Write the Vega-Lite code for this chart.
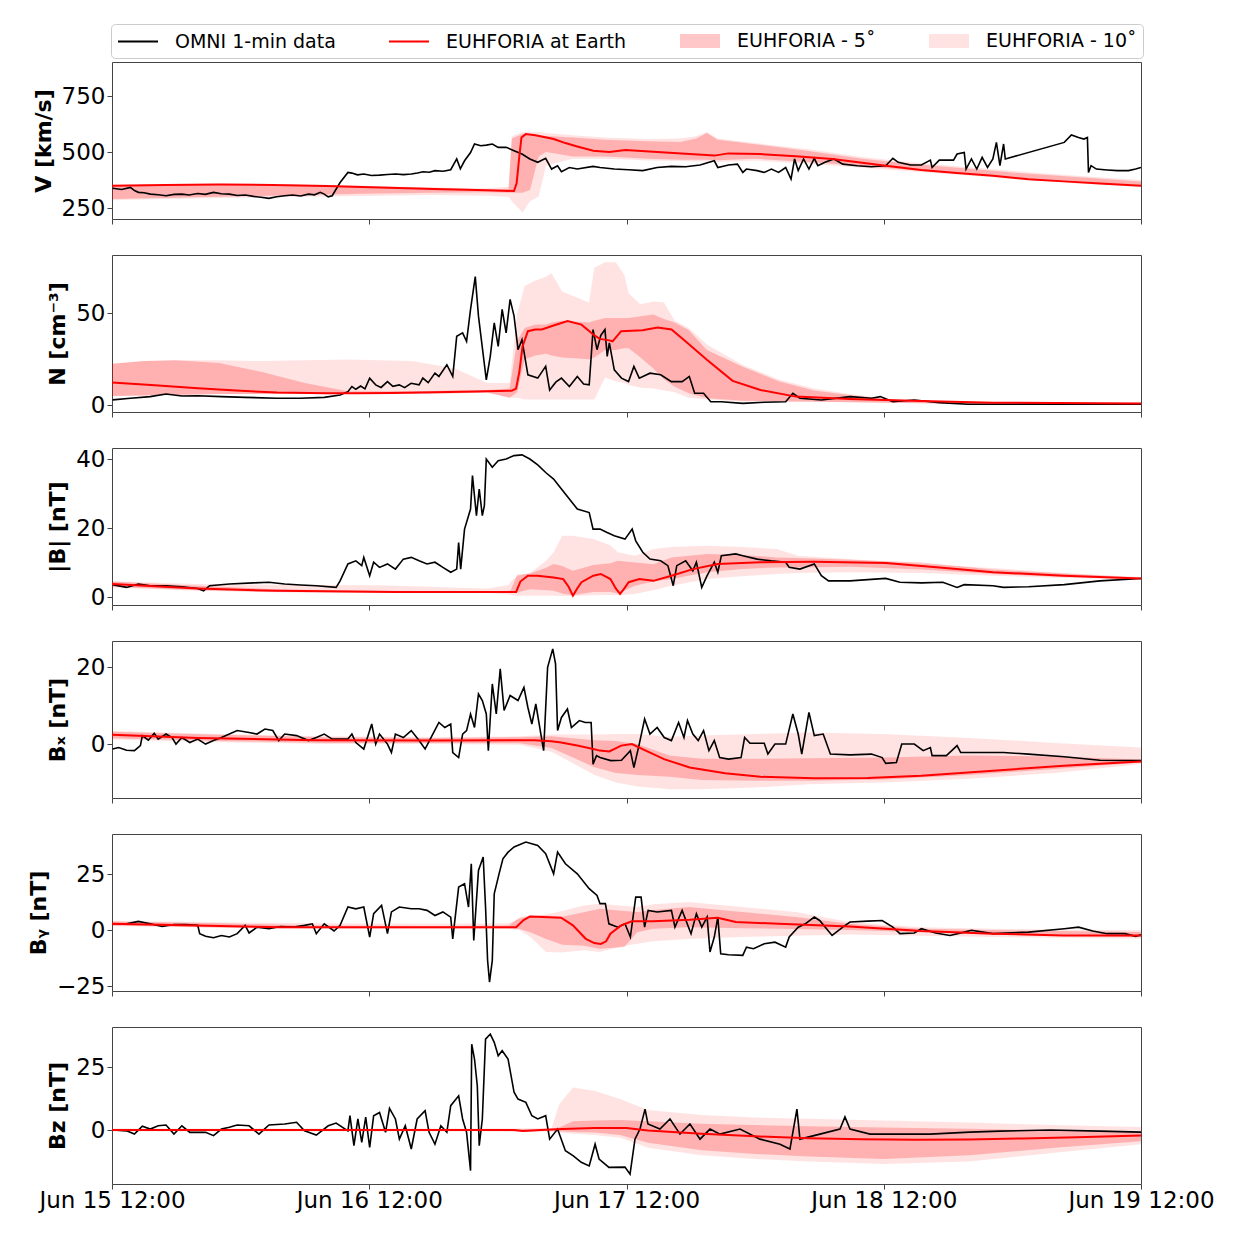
{
  "$schema": "https://vega.github.io/schema/vega-lite/v6.json",
  "padding": {"left": 26, "top": 23, "right": 5, "bottom": 5},
  "background": "white",
  "config": {
    "font": "DejaVu Sans",
    "view": {"stroke": "#444444", "strokeWidth": 1},
    "axis": {
      "labelFont": "DejaVu Sans", "labelFontSize": 23, "labelColor": "#000000",
      "titleFont": "DejaVu Sans", "titleFontSize": 22, "titleFontWeight": "bold", "titleColor": "#000000",
      "tickColor": "#444444", "tickSize": 5, "tickWidth": 1, "domain": false, "grid": false,
      "labelPadding": 2, "titlePadding": 6
    }
  },
  "datasets": {
    "v_omni": [
      {"h":0.06,"v":338},{"h":0.9,"v":333},{"h":1.72,"v":342},{"h":2.1,"v":328},{"h":2.46,"v":320},{"h":3.0,"v":318},{"h":3.57,"v":312},{"h":4.3,"v":309},{"h":5.04,"v":305},{"h":5.8,"v":311},{"h":6.52,"v":312},{"h":7.2,"v":308},{"h":8.0,"v":315},{"h":8.7,"v":311},{"h":9.47,"v":320},{"h":10.2,"v":314},{"h":10.95,"v":312},{"h":11.7,"v":306},{"h":12.42,"v":308},{"h":13.2,"v":302},{"h":13.9,"v":298},{"h":14.64,"v":293},{"h":15.37,"v":300},{"h":16.1,"v":305},{"h":16.85,"v":308},{"h":17.6,"v":304},{"h":18.33,"v":312},{"h":18.9,"v":309},{"h":19.43,"v":320},{"h":19.8,"v":312},{"h":20.17,"v":300},{"h":20.54,"v":305},{"h":21.28,"v":364},{"h":22.01,"v":409},{"h":22.38,"v":406},{"h":22.9,"v":398},{"h":23.49,"v":402},{"h":24.2,"v":395},{"h":24.96,"v":397},{"h":25.7,"v":400},{"h":26.44,"v":402},{"h":27.2,"v":399},{"h":27.92,"v":402},{"h":28.5,"v":406},{"h":29.02,"v":412},{"h":29.6,"v":410},{"h":30.13,"v":417},{"h":30.9,"v":414},{"h":31.6,"v":421},{"h":32.16,"v":469},{"h":32.5,"v":425},{"h":32.89,"v":461},{"h":33.45,"v":498},{"h":33.82,"v":536},{"h":34.4,"v":528},{"h":34.92,"v":531},{"h":35.48,"v":536},{"h":36.03,"v":521},{"h":36.77,"v":521},{"h":37.51,"v":506},{"h":38.25,"v":491},{"h":38.98,"v":469},{"h":39.72,"v":454},{"h":40.46,"v":472},{"h":41.01,"v":424},{"h":41.57,"v":439},{"h":41.93,"v":412},{"h":42.67,"v":431},{"h":43.41,"v":424},{"h":44.88,"v":436},
      {"h":45.53,"v":431},{"h":46.86,"v":424},{"h":48.19,"v":421},{"h":49.52,"v":417},{"h":50.86,"v":431},{"h":52.19,"v":436},{"h":53.52,"v":434},{"h":54.86,"v":442},{"h":56.19,"v":461},{"h":56.52,"v":431},{"h":57.52,"v":442},{"h":58.35,"v":446},{"h":58.85,"v":409},{"h":59.19,"v":424},{"h":60.19,"v":417},{"h":60.85,"v":409},{"h":61.52,"v":424},{"h":62.19,"v":409},{"h":62.85,"v":431},{"h":63.35,"v":379},{"h":63.68,"v":469},{"h":64.02,"v":417},{"h":64.52,"v":469},{"h":65.02,"v":424},{"h":65.52,"v":472},{"h":65.85,"v":439},{"h":66.52,"v":454},{"h":67.35,"v":469},{"h":68.18,"v":446},{"h":69.52,"v":439},{"h":70.85,"v":434},{"h":72.18,"v":439},{"h":72.85,"v":472},{"h":73.35,"v":454},{"h":74.51,"v":442},{"h":75.51,"v":442},{"h":76.35,"v":464},{"h":76.51,"v":431},{"h":77.18,"v":464},{"h":78.51,"v":464},{"h":78.84,"v":491},{"h":79.51,"v":498},{"h":79.68,"v":424},{"h":80.18,"v":469},{"h":80.68,"v":424},{"h":81.18,"v":476},{"h":81.68,"v":431},{"h":82.18,"v":469},{"h":82.51,"v":543},{"h":82.84,"v":439},{"h":83.18,"v":536},{"h":83.34,"v":469},{"h":88.84,"v":543},{"h":89.51,"v":576},{"h":90.17,"v":565},{"h":90.67,"v":558},{"h":91.0,"v":565},{"h":91.1,"v":409},{"h":91.34,"v":439},{"h":91.84,"v":424},{"h":92.84,"v":420},{"h":93.84,"v":417},{"h":94.84,"v":417},{"h":95.5,"v":424},{"h":96.0,"v":431}
    ],
    "v_model": [
      {"h":0,"v":350},{"h":5,"v":353},{"h":10,"v":355},{"h":15,"v":353},{"h":20,"v":348},{"h":25,"v":342},{"h":30,"v":335},{"h":35,"v":329},{"h":37.5,"v":326},{"h":37.75,"v":360},{"h":38.0,"v":480},{"h":38.2,"v":565},{"h":38.6,"v":580},{"h":39.5,"v":575},{"h":41.2,"v":558},{"h":42.3,"v":540},{"h":43.4,"v":525},{"h":44.9,"v":506},{"h":46.4,"v":500},{"h":47.9,"v":509},{"h":50.5,"v":501},{"h":53.9,"v":491},{"h":56.2,"v":484},{"h":57.5,"v":494},{"h":60.5,"v":491},{"h":63.8,"v":481},{"h":67.2,"v":469},{"h":72.2,"v":439},{"h":75.5,"v":420},{"h":78.8,"v":406},{"h":82.2,"v":394},{"h":85.5,"v":379},{"h":88.8,"v":369},{"h":92.2,"v":360},{"h":96,"v":350}
    ],
    "v_band": [
      {"h":0,"lo5":290,"hi5":348,"lo10":285,"hi10":353},{"h":5,"lo5":295,"hi5":352,"lo10":290,"hi10":357},{"h":10,"lo5":300,"hi5":354,"lo10":295,"hi10":359},{"h":15,"lo5":305,"hi5":353,"lo10":298,"hi10":357},{"h":20,"lo5":310,"hi5":350,"lo10":302,"hi10":353},{"h":25,"lo5":315,"hi5":345,"lo10":305,"hi10":348},{"h":30,"lo5":318,"hi5":340,"lo10":308,"hi10":342},{"h":35,"lo5":320,"hi5":333,"lo10":305,"hi10":338},{"h":37.0,"lo5":318,"hi5":336,"lo10":300,"hi10":345},{"h":37.3,"lo5":318,"hi5":560,"lo10":280,"hi10":570},{"h":38.3,"lo5":318,"hi5":580,"lo10":230,"hi10":590},{"h":39.0,"lo5":330,"hi5":578,"lo10":280,"hi10":590},{"h":39.8,"lo5":480,"hi5":575,"lo10":300,"hi10":590},{"h":40.5,"lo5":500,"hi5":572,"lo10":440,"hi10":585},{"h":43,"lo5":480,"hi5":565,"lo10":470,"hi10":575},{"h":46,"lo5":480,"hi5":555,"lo10":470,"hi10":565},{"h":50,"lo5":470,"hi5":548,"lo10":462,"hi10":558},{"h":53,"lo5":465,"hi5":545,"lo10":460,"hi10":560},{"h":54.5,"lo5":465,"hi5":560,"lo10":458,"hi10":570},{"h":55.5,"lo5":465,"hi5":585,"lo10":458,"hi10":590},{"h":56.5,"lo5":463,"hi5":555,"lo10":456,"hi10":560},{"h":60,"lo5":470,"hi5":535,"lo10":462,"hi10":540},{"h":65,"lo5":455,"hi5":505,"lo10":448,"hi10":512},{"h":70,"lo5":438,"hi5":470,"lo10":430,"hi10":478},{"h":75,"lo5":418,"hi5":445,"lo10":412,"hi10":452},{"h":80,"lo5":400,"hi5":425,"lo10":395,"hi10":432},{"h":85,"lo5":382,"hi5":405,"lo10":376,"hi10":412},{"h":90,"lo5":364,"hi5":388,"lo10":360,"hi10":394},{"h":96,"lo5":348,"hi5":368,"lo10":344,"hi10":375}
    ],
    "n_omni": [
      {"h":0.06,"v":2.8},{"h":1.72,"v":3.7},{"h":3.57,"v":4.6},{"h":5.04,"v":6.0},{"h":6.52,"v":4.9},{"h":8.0,"v":5.1},{"h":10.21,"v":4.6},{"h":12.42,"v":4.2},{"h":15.37,"v":3.7},{"h":17.59,"v":3.7},{"h":19.8,"v":4.2},{"h":21.28,"v":5.5},{"h":22.01,"v":7.3},{"h":22.38,"v":10.1},{"h":22.75,"v":8.6},{"h":23.2,"v":10.4},{"h":23.6,"v":8.8},{"h":24.04,"v":14.7},{"h":24.6,"v":11.0},{"h":25.1,"v":9.6},{"h":25.7,"v":12.8},{"h":26.2,"v":10.2},{"h":26.8,"v":11.0},{"h":27.3,"v":9.5},{"h":27.9,"v":11.9},{"h":28.65,"v":11.0},{"h":29.0,"v":14.7},{"h":29.5,"v":12.2},{"h":30.13,"v":17.4},{"h":30.5,"v":15.6},{"h":31.24,"v":22.0},{"h":31.79,"v":15.6},{"h":32.16,"v":37.5},{"h":32.71,"v":39.4},{"h":33.08,"v":34.8},{"h":33.45,"v":52.2},{"h":33.89,"v":70.1},{"h":34.19,"v":48.5},{"h":34.92,"v":13.7},{"h":35.29,"v":26.6},{"h":35.66,"v":44.9},{"h":36.03,"v":32.0},{"h":36.4,"v":52.2},{"h":36.77,"v":39.4},{"h":37.14,"v":57.7},{"h":37.51,"v":48.5},{"h":37.88,"v":30.2},{"h":38.25,"v":35.7},{"h":38.8,"v":16.5},{"h":39.72,"v":14.7},{"h":40.46,"v":21.1},{"h":40.83,"v":8.2},{"h":41.4,"v":12.5},{"h":41.93,"v":14.7},{"h":42.67,"v":10.1},{"h":43.41,"v":15.6},{"h":44.0,"v":11.5},{"h":44.52,"v":11.0},{"h":44.88,"v":41.2},{"h":45.25,"v":30.2},{"h":45.6,"v":38},{"h":45.99,"v":41.2},{"h":46.2,"v":26.6},{"h":46.4,"v":33.9},{"h":46.86,"v":19.2},{"h":47.53,"v":14.7},{"h":48.19,"v":12.8},{"h":48.69,"v":21.1},{"h":49.19,"v":14.7},{"h":50.19,"v":17.4},{"h":51.19,"v":16.5},{"h":52.19,"v":12.8},{"h":53.19,"v":12.8},{"h":53.86,"v":15.6},{"h":54.36,"v":6.4},{"h":55.19,"v":6.4},{"h":55.86,"v":1.8},{"h":56.85,"v":1.8},{"h":58.85,"v":0.9},{"h":60.85,"v":1.5},{"h":62.85,"v":1.8},{"h":63.52,"v":6.4},{"h":64.18,"v":3.7},{"h":66.18,"v":2.75},{"h":68.85,"v":4.6},{"h":70.85,"v":3.7},{"h":71.68,"v":4.6},{"h":72.85,"v":1.8},{"h":74.84,"v":2.75},{"h":77.18,"v":1.3},{"h":79.84,"v":0.4},{"h":82.18,"v":0.4},{"h":85.5,"v":0.5},{"h":88.84,"v":0.4},{"h":92.17,"v":0.4},{"h":96,"v":0.5}
    ],
    "n_model": [
      {"h":0,"v":12.3},{"h":4,"v":10.8},{"h":8,"v":9.2},{"h":12,"v":7.8},{"h":15.4,"v":6.8},{"h":20,"v":6.5},{"h":22.8,"v":6.4},{"h":26,"v":6.6},{"h":30.1,"v":7.0},{"h":34,"v":7.4},{"h":37.3,"v":7.8},{"h":37.7,"v":9},{"h":38.0,"v":18},{"h":38.3,"v":32},{"h":38.8,"v":40.3},{"h":39.5,"v":41.2},{"h":40.1,"v":41.2},{"h":41.2,"v":43.4},{"h":42.5,"v":45.9},{"h":43.8,"v":43.9},{"h":44.9,"v":38.5},{"h":45.5,"v":36.1},{"h":46.4,"v":35.3},{"h":46.7,"v":34.8},{"h":47.5,"v":40.3},{"h":49.5,"v":40.8},{"h":50.9,"v":42.3},{"h":52.2,"v":41.2},{"h":53.5,"v":34.8},{"h":55.5,"v":24.7},{"h":57.9,"v":13.2},{"h":60.5,"v":8.2},{"h":63.8,"v":4.6},{"h":68.8,"v":3.3},{"h":75.5,"v":2.2},{"h":82.2,"v":1.3},{"h":96,"v":0.9}
    ],
    "n_band": [
      {"h":0,"lo5":5,"hi5":22.5,"lo10":5,"hi10":22.5},{"h":3,"lo5":5.2,"hi5":24,"lo10":5.2,"hi10":24},{"h":6,"lo5":5.5,"hi5":24.5,"lo10":5.5,"hi10":24.5},{"h":10,"lo5":6,"hi5":23,"lo10":6,"hi10":24.5},{"h":14,"lo5":6,"hi5":18,"lo10":6,"hi10":24},{"h":18,"lo5":6,"hi5":12,"lo10":6,"hi10":24.5},{"h":22,"lo5":6,"hi5":7.5,"lo10":6,"hi10":24.8},{"h":28,"lo5":6.2,"hi5":7.5,"lo10":6.2,"hi10":24},{"h":32,"lo5":6.5,"hi5":8,"lo10":6.5,"hi10":20},{"h":35,"lo5":6.8,"hi5":8.2,"lo10":6.8,"hi10":12},{"h":37.1,"lo5":4,"hi5":9,"lo10":4,"hi10":12},{"h":37.8,"lo5":7,"hi5":35,"lo10":4,"hi10":50},{"h":38.5,"lo5":25,"hi5":42,"lo10":3,"hi10":65},{"h":39.5,"lo5":27,"hi5":44,"lo10":3,"hi10":68},{"h":40.5,"lo5":28,"hi5":44,"lo10":3,"hi10":70},{"h":41,"lo5":27,"hi5":45,"lo10":3,"hi10":72},{"h":42,"lo5":26,"hi5":46,"lo10":3,"hi10":62},{"h":44.5,"lo5":25,"hi5":45,"lo10":3,"hi10":56},{"h":45,"lo5":26,"hi5":46,"lo10":3,"hi10":75},{"h":46,"lo5":30,"hi5":47.5,"lo10":15,"hi10":78},{"h":47,"lo5":30,"hi5":47.5,"lo10":13,"hi10":78},{"h":47.8,"lo5":31,"hi5":47.5,"lo10":12,"hi10":71},{"h":48.2,"lo5":31,"hi5":47.5,"lo10":11,"hi10":61},{"h":49.3,"lo5":26,"hi5":48.5,"lo10":9.5,"hi10":55},{"h":50.5,"lo5":20,"hi5":49.4,"lo10":9,"hi10":56.5},{"h":51.5,"lo5":14,"hi5":47,"lo10":8,"hi10":56},{"h":52.5,"lo5":10,"hi5":45,"lo10":7,"hi10":46},{"h":53.8,"lo5":6.4,"hi5":41,"lo10":4,"hi10":42},{"h":55.5,"lo5":3.7,"hi5":30,"lo10":3,"hi10":33},{"h":58.8,"lo5":2.4,"hi5":21,"lo10":2,"hi10":22},{"h":62.2,"lo5":2,"hi5":13,"lo10":2,"hi10":14},{"h":65.5,"lo5":1.8,"hi5":8,"lo10":1.8,"hi10":9},{"h":68.8,"lo5":1.5,"hi5":5.5,"lo10":1.5,"hi10":6},{"h":72.2,"lo5":1.3,"hi5":3.3,"lo10":1.3,"hi10":3.6},{"h":75.5,"lo5":1,"hi5":1.8,"lo10":1,"hi10":2.2},{"h":80,"lo5":0.6,"hi5":1.2,"lo10":0.6,"hi10":1.4},{"h":96,"lo5":0.4,"hi5":1.0,"lo10":0.4,"hi10":1.2}
    ],
    "b_omni": [
      {"h":0.06,"v":3.6},{"h":1.36,"v":2.8},{"h":2.46,"v":3.8},{"h":3.57,"v":3.3},{"h":5.04,"v":3.3},{"h":6.52,"v":3.0},{"h":8.0,"v":2.5},{"h":8.55,"v":1.8},{"h":9.1,"v":3.3},{"h":10.95,"v":3.8},{"h":13.16,"v":4.1},{"h":14.64,"v":4.3},{"h":16.11,"v":3.8},{"h":17.59,"v":3.5},{"h":19.06,"v":3.3},{"h":20.91,"v":2.8},{"h":21.28,"v":4.7},{"h":22.01,"v":9.6},{"h":22.75,"v":10.5},{"h":23.3,"v":9.1},{"h":23.49,"v":11.5},{"h":24.04,"v":6.2},{"h":24.41,"v":10.1},{"h":24.96,"v":8.6},{"h":25.7,"v":9.6},{"h":26.44,"v":8.1},{"h":27.18,"v":11.0},{"h":27.92,"v":11.5},{"h":28.65,"v":10.5},{"h":29.39,"v":9.6},{"h":30.13,"v":10.1},{"h":30.87,"v":8.6},{"h":31.6,"v":7.2},{"h":32.16,"v":8.1},{"h":32.34,"v":15.8},{"h":32.53,"v":8.1},{"h":32.89,"v":19.7},{"h":33.45,"v":25.5},{"h":33.63,"v":35.2},{"h":34.0,"v":23.6},{"h":34.26,"v":31.3},{"h":34.55,"v":23.6},{"h":34.74,"v":26.5},{"h":34.92,"v":40.0},{"h":35.48,"v":37.6},{"h":36.03,"v":39.5},{"h":36.77,"v":40.0},{"h":37.51,"v":41.0},{"h":38.25,"v":41.2},{"h":38.98,"v":40.0},{"h":39.72,"v":38.3},{"h":40.46,"v":36.1},{"h":41.2,"v":34.2},{"h":41.93,"v":31.3},{"h":42.67,"v":28.4},{"h":43.41,"v":25.5},{"h":44.52,"v":24.5},{"h":44.88,"v":19.7},
      {"h":45.53,"v":19.7},{"h":46.19,"v":18.7},{"h":46.86,"v":17.8},{"h":47.86,"v":16.8},{"h":48.53,"v":19.7},{"h":48.86,"v":16.3},{"h":49.52,"v":13.0},{"h":50.19,"v":11.0},{"h":51.19,"v":10.5},{"h":51.86,"v":9.1},{"h":52.36,"v":3.3},{"h":52.69,"v":9.1},{"h":53.52,"v":10.5},{"h":54.19,"v":7.6},{"h":54.52,"v":10.1},{"h":55.02,"v":2.8},{"h":55.52,"v":6.2},{"h":56.19,"v":10.1},{"h":56.52,"v":7.2},{"h":56.85,"v":12.0},{"h":58.19,"v":12.5},{"h":58.85,"v":12.0},{"h":60.19,"v":11.0},{"h":61.52,"v":10.5},{"h":62.85,"v":10.1},{"h":63.18,"v":8.6},{"h":64.18,"v":8.1},{"h":65.52,"v":9.6},{"h":66.18,"v":6.2},{"h":66.85,"v":4.7},{"h":68.85,"v":4.7},{"h":72.18,"v":5.4},{"h":73.51,"v":4.3},{"h":75.51,"v":4.1},{"h":77.51,"v":4.3},{"h":78.84,"v":2.8},{"h":79.51,"v":3.6},{"h":82.18,"v":3.3},{"h":83.18,"v":2.8},{"h":85.51,"v":3.0},{"h":88.84,"v":3.6},{"h":92.17,"v":4.7},{"h":96,"v":5.4}
    ],
    "b_model": [
      {"h":0,"v":3.8},{"h":8,"v":2.5},{"h":15.4,"v":1.8},{"h":26.4,"v":1.5},{"h":37.7,"v":1.5},{"h":38.1,"v":4.5},{"h":38.8,"v":6.2},{"h":39.7,"v":6.2},{"h":41.2,"v":5.7},{"h":42.1,"v":5.2},{"h":42.6,"v":3.0},{"h":43.0,"v":0.4},{"h":43.4,"v":2.5},{"h":43.8,"v":4.3},{"h":44.9,"v":6.2},{"h":45.6,"v":6.7},{"h":46.5,"v":5.2},{"h":47.0,"v":2.5},{"h":47.4,"v":0.9},{"h":47.8,"v":2.5},{"h":48.2,"v":4.3},{"h":49.2,"v":5.2},{"h":50.5,"v":4.7},{"h":52.2,"v":6.2},{"h":54.2,"v":8.1},{"h":56.5,"v":9.6},{"h":60.5,"v":10.1},{"h":65.5,"v":10.2},{"h":72.2,"v":9.9},{"h":77.2,"v":8.6},{"h":82.2,"v":7.2},{"h":88.8,"v":6.2},{"h":96,"v":5.4}
    ],
    "b_band": [
      {"h":0,"lo5":3.0,"hi5":4.5,"lo10":2.8,"hi10":4.6},{"h":8,"lo5":2.0,"hi5":3.3,"lo10":1.8,"hi10":3.8},{"h":15,"lo5":1.5,"hi5":2.3,"lo10":1.4,"hi10":3.6},{"h":25,"lo5":1.3,"hi5":1.8,"lo10":1.2,"hi10":3.4},{"h":35,"lo5":1.3,"hi5":1.7,"lo10":1.2,"hi10":2.5},{"h":37,"lo5":1.3,"hi5":1.8,"lo10":0.8,"hi10":3.5},{"h":37.2,"lo5":1.3,"hi5":2.0,"lo10":0.5,"hi10":4.5},{"h":37.8,"lo5":1.3,"hi5":6.5,"lo10":0.4,"hi10":6.0},{"h":39.0,"lo5":2.3,"hi5":6.8,"lo10":0.4,"hi10":7.0},{"h":40.5,"lo5":2.0,"hi5":8.5,"lo10":0.4,"hi10":10.5},{"h":41.2,"lo5":1.8,"hi5":9.6,"lo10":0.4,"hi10":13},{"h":42.0,"lo5":1.0,"hi5":9.0,"lo10":0.3,"hi10":17.8},{"h":43.0,"lo5":0.5,"hi5":7.6,"lo10":0.3,"hi10":17.8},{"h":44.9,"lo5":1.5,"hi5":9.3,"lo10":0.5,"hi10":16.8},{"h":46.5,"lo5":1.5,"hi5":9.8,"lo10":0.6,"hi10":15.0},{"h":47.2,"lo5":1.0,"hi5":10.5,"lo10":0.5,"hi10":13},{"h":48.8,"lo5":3.3,"hi5":10.0,"lo10":0.9,"hi10":12},{"h":50.5,"lo5":4.5,"hi5":9.5,"lo10":2.0,"hi10":13.9},{"h":52.2,"lo5":5.2,"hi5":11.5,"lo10":3.3,"hi10":14.5},{"h":55.5,"lo5":7.2,"hi5":12.5,"lo10":5.2,"hi10":14.9},{"h":58.8,"lo5":8.1,"hi5":12.2,"lo10":6.0,"hi10":14.5},{"h":62,"lo5":8.6,"hi5":11.5,"lo10":6.7,"hi10":13.9},{"h":64,"lo5":8.6,"hi5":11.3,"lo10":7.0,"hi10":12},{"h":68.8,"lo5":8.8,"hi5":10.8,"lo10":7.2,"hi10":11},{"h":75.5,"lo5":8.0,"hi5":10.0,"lo10":7.0,"hi10":9.6},{"h":82.2,"lo5":6.7,"hi5":8.0,"lo10":6.2,"hi10":8.4},{"h":88.8,"lo5":5.8,"hi5":6.8,"lo10":5.5,"hi10":7.0},{"h":96,"lo5":5.2,"hi5":5.6,"lo10":5.1,"hi10":5.8}
    ],
    "bx_omni": [
      {"h":0.06,"v":-1.3},{"h":0.62,"v":-0.9},{"h":1.36,"v":-1.6},{"h":2.09,"v":-1.7},{"h":2.65,"v":-0.4},{"h":2.83,"v":2.2},{"h":3.39,"v":1.0},{"h":3.94,"v":2.8},{"h":4.31,"v":1.3},{"h":5.04,"v":2.6},{"h":5.6,"v":1.7},{"h":5.97,"v":0},{"h":6.52,"v":1.7},{"h":7.26,"v":0.4},{"h":8.0,"v":1.3},{"h":8.73,"v":0},{"h":9.47,"v":0.9},{"h":10.21,"v":1.7},{"h":10.95,"v":2.6},{"h":11.68,"v":3.5},{"h":12.79,"v":3.0},{"h":13.53,"v":2.6},{"h":14.27,"v":3.9},{"h":15.0,"v":3.5},{"h":15.56,"v":0.9},{"h":16.11,"v":2.6},{"h":17.22,"v":2.2},{"h":18.33,"v":0.9},{"h":19.06,"v":1.7},{"h":19.8,"v":2.6},{"h":20.54,"v":1.3},{"h":22.01,"v":1.3},{"h":22.38,"v":2.6},{"h":22.75,"v":0.4},{"h":23.49,"v":-1.3},{"h":24.23,"v":5.2},{"h":24.6,"v":0},{"h":24.96,"v":2.6},{"h":25.7,"v":0},{"h":26.07,"v":-2.2},{"h":26.44,"v":2.6},{"h":27.18,"v":1.7},{"h":27.92,"v":3.5},{"h":28.65,"v":0.9},{"h":29.21,"v":-1.3},{"h":29.76,"v":1.7},{"h":30.5,"v":5.6},{"h":31.05,"v":4.3},{"h":31.6,"v":5.2},{"h":31.79,"v":-2.2},{"h":32.34,"v":-3.5},{"h":32.71,"v":2.6},{"h":33.08,"v":3.5},{"h":33.45,"v":7.8},{"h":33.82,"v":4.3},{"h":34.19,"v":13.0},{"h":34.55,"v":11.3},{"h":34.92,"v":7.8},{"h":35.11,"v":-1.7},{"h":35.48,"v":15.6},{"h":35.85,"v":7.8},{"h":36.22,"v":19.5},{"h":36.58,"v":8.7},{"h":37.14,"v":12.6},{"h":37.88,"v":11.3},{"h":38.43,"v":14.7},{"h":38.8,"v":9.5},{"h":39.17,"v":5.2},{"h":39.54,"v":10.4},{"h":40.27,"v":-1.7},{"h":40.64,"v":19.9},{"h":41.12,"v":24.7},{"h":41.38,"v":20.8},{"h":41.57,"v":3.5},{"h":41.93,"v":6.9},{"h":42.49,"v":9.1},{"h":42.86,"v":4.3},{"h":43.6,"v":6.1},{"h":44.15,"v":5.6},{"h":44.7,"v":5.6},{"h":44.88,"v":-5.2},{"h":45.2,"v":-3.0},
      {"h":45.53,"v":-3.5},{"h":46.53,"v":-4.3},{"h":47.53,"v":-4.2},{"h":48.36,"v":-1.7},{"h":48.69,"v":-6.1},{"h":49.19,"v":0},{"h":49.69,"v":6.5},{"h":50.19,"v":2.6},{"h":50.86,"v":4.3},{"h":51.52,"v":1.7},{"h":52.19,"v":0.9},{"h":52.86,"v":5.6},{"h":53.36,"v":1.7},{"h":53.69,"v":6.1},{"h":54.19,"v":2.6},{"h":54.69,"v":0.9},{"h":55.19,"v":3.5},{"h":55.69,"v":-1.7},{"h":56.19,"v":0.9},{"h":56.69,"v":-3.5},{"h":57.52,"v":-3.9},{"h":58.69,"v":-3.5},{"h":59.02,"v":1.7},{"h":59.52,"v":0.2},{"h":60.85,"v":0.2},{"h":61.19,"v":-2.6},{"h":61.85,"v":0},{"h":62.85,"v":0},{"h":63.52,"v":7.8},{"h":64.02,"v":2.6},{"h":64.35,"v":-2.6},{"h":65.02,"v":8.2},{"h":65.52,"v":2.2},{"h":66.35,"v":2.6},{"h":67.02,"v":-2.6},{"h":68.85,"v":-2.8},{"h":70.85,"v":-2.6},{"h":71.85,"v":-3.5},{"h":72.18,"v":-5.0},{"h":73.18,"v":-4.8},{"h":73.68,"v":0},{"h":74.85,"v":0},{"h":75.68,"v":-1.7},{"h":76.35,"v":-0.9},{"h":76.51,"v":-3.0},{"h":77.84,"v":-3.0},{"h":78.84,"v":-0.4},{"h":79.18,"v":-2.2},{"h":80.84,"v":-2.2},{"h":83.18,"v":-2.2},{"h":85.51,"v":-2.6},{"h":88.84,"v":-3.3},{"h":92.17,"v":-4.2},{"h":96,"v":-4.3}
    ],
    "bx_model": [
      {"h":0,"v":2.4},{"h":8,"v":1.6},{"h":19,"v":1.0},{"h":30.1,"v":0.9},{"h":39.4,"v":1.0},{"h":41.0,"v":0.7},{"h":41.9,"v":0.4},{"h":43.4,"v":-0.4},{"h":44.9,"v":-1.3},{"h":45.5,"v":-1.7},{"h":46.4,"v":-1.9},{"h":47.5,"v":-0.4},{"h":48.5,"v":0},{"h":49.5,"v":-1.3},{"h":51.5,"v":-3.9},{"h":53.9,"v":-6.1},{"h":57.2,"v":-7.6},{"h":60.5,"v":-8.5},{"h":65.5,"v":-8.9},{"h":70.5,"v":-8.8},{"h":75.5,"v":-8.2},{"h":82.2,"v":-6.9},{"h":88.8,"v":-5.6},{"h":96,"v":-4.5}
    ],
    "bx_band": [
      {"h":0,"lo5":1.5,"hi5":3.2,"lo10":1.2,"hi10":3.4},{"h":10,"lo5":0.8,"hi5":2.4,"lo10":0.5,"hi10":2.6},{"h":20,"lo5":0.3,"hi5":1.8,"lo10":0.0,"hi10":2.0},{"h":30,"lo5":0.3,"hi5":1.6,"lo10":0.0,"hi10":1.8},{"h":38,"lo5":0.2,"hi5":1.8,"lo10":-0.2,"hi10":2.0},{"h":41,"lo5":-1,"hi5":2.0,"lo10":-2,"hi10":2.5},{"h":43,"lo5":-3.5,"hi5":1.5,"lo10":-5,"hi10":2.5},{"h":45,"lo5":-6,"hi5":1,"lo10":-8,"hi10":2.5},{"h":47,"lo5":-7.5,"hi5":0.8,"lo10":-10,"hi10":2.6},{"h":49,"lo5":-8,"hi5":0,"lo10":-11,"hi10":2.6},{"h":52,"lo5":-8.5,"hi5":-3,"lo10":-11.7,"hi10":1.9},{"h":55,"lo5":-9.3,"hi5":-3.8,"lo10":-11.7,"hi10":2.2},{"h":60,"lo5":-9.5,"hi5":-3.8,"lo10":-11.3,"hi10":2.6},{"h":65,"lo5":-9.5,"hi5":-3.7,"lo10":-10.4,"hi10":3.0},{"h":72,"lo5":-9.2,"hi5":-3.5,"lo10":-10,"hi10":2.6},{"h":80,"lo5":-8,"hi5":-3,"lo10":-9,"hi10":1.6},{"h":88,"lo5":-6.5,"hi5":-3.2,"lo10":-7.5,"hi10":0.3},{"h":96,"lo5":-4.8,"hi5":-4.0,"lo10":-5.2,"hi10":-0.9}
    ],
    "by_omni": [
      {"h":0.06,"v":2.8},{"h":1.36,"v":2.8},{"h":2.46,"v":3.9},{"h":3.57,"v":2.8},{"h":4.68,"v":1.6},{"h":5.78,"v":2.5},{"h":6.89,"v":2.5},{"h":8.0,"v":2.1},{"h":8.18,"v":-1.6},{"h":8.73,"v":-2.8},{"h":9.47,"v":-3.4},{"h":10.21,"v":-2.4},{"h":10.95,"v":-3.1},{"h":11.68,"v":-1.6},{"h":12.42,"v":2.1},{"h":12.79,"v":-1.3},{"h":13.53,"v":1.3},{"h":14.64,"v":0.6},{"h":15.74,"v":1.6},{"h":16.85,"v":1.3},{"h":17.96,"v":2.1},{"h":18.69,"v":2.8},{"h":19.06,"v":-1.6},{"h":19.8,"v":2.8},{"h":20.72,"v":-0.4},{"h":21.28,"v":2.1},{"h":22.01,"v":10.3},{"h":22.75,"v":9.5},{"h":23.49,"v":10.3},{"h":24.04,"v":-3.1},{"h":24.41,"v":7.3},{"h":25.15,"v":11.0},{"h":25.7,"v":-1.6},{"h":26.07,"v":8.1},{"h":26.81,"v":10.3},{"h":27.92,"v":9.5},{"h":28.65,"v":9.5},{"h":29.39,"v":8.8},{"h":30.13,"v":6.5},{"h":30.87,"v":8.1},{"h":31.6,"v":5.8},{"h":31.79,"v":-3.9},{"h":32.34,"v":19.2},{"h":32.89,"v":20.7},{"h":33.26,"v":10.3},{"h":33.52,"v":29.6},{"h":33.75,"v":-4.6},{"h":34.19,"v":26.6},{"h":34.63,"v":32.6},{"h":34.85,"v":10.3},{"h":35.04,"v":-13.5},{"h":35.22,"v":-23.2},{"h":35.48,"v":-13.5},{"h":35.66,"v":16.2},{"h":36.11,"v":25.1},{"h":36.47,"v":31.8},{"h":36.95,"v":34.8},{"h":37.51,"v":37.1},{"h":38.61,"v":39.3},{"h":39.72,"v":37.8},{"h":40.46,"v":34.1},{"h":41.2,"v":25.1},{"h":41.57,"v":34.8},{"h":42.3,"v":29.6},{"h":43.41,"v":25.1},{"h":44.52,"v":18.5},{"h":45.25,"v":15.5},
      {"h":45.53,"v":11.8},{"h":46.03,"v":11.8},{"h":46.36,"v":2.8},{"h":47.19,"v":1.3},{"h":47.86,"v":2.8},{"h":48.36,"v":-3.1},{"h":48.86,"v":14.7},{"h":49.36,"v":14.7},{"h":49.69,"v":1.3},{"h":50.02,"v":8.8},{"h":50.86,"v":8.1},{"h":52.19,"v":8.8},{"h":52.52,"v":1.3},{"h":53.19,"v":8.8},{"h":54.02,"v":-1.6},{"h":54.52,"v":7.3},{"h":55.02,"v":1.3},{"h":55.52,"v":5.8},{"h":55.79,"v":-9.8},{"h":56.19,"v":-3.1},{"h":56.52,"v":5.8},{"h":56.79,"v":-10.6},{"h":57.52,"v":-11.0},{"h":58.85,"v":-11.3},{"h":59.19,"v":-7.6},{"h":59.85,"v":-8.3},{"h":60.85,"v":-6.1},{"h":61.85,"v":-5.4},{"h":62.85,"v":-7.6},{"h":63.18,"v":-3.1},{"h":64.02,"v":1.3},{"h":64.68,"v":2.8},{"h":65.52,"v":5.8},{"h":66.02,"v":4.3},{"h":67.18,"v":-2.4},{"h":68.18,"v":1.3},{"h":68.85,"v":3.6},{"h":70.51,"v":4.0},{"h":71.85,"v":4.3},{"h":72.85,"v":1.3},{"h":73.51,"v":-1.6},{"h":74.85,"v":-1.3},{"h":75.51,"v":0.6},{"h":76.84,"v":-1.3},{"h":78.18,"v":-2.4},{"h":79.51,"v":-0.9},{"h":80.18,"v":-0.1},{"h":82.18,"v":-1.6},{"h":85.51,"v":-0.9},{"h":88.84,"v":0.6},{"h":90.17,"v":1.3},{"h":91.5,"v":-0.4},{"h":92.84,"v":-1.6},{"h":94.5,"v":-1.6},{"h":95.5,"v":-2.8},{"h":96,"v":-2.1}
    ],
    "by_model": [
      {"h":0,"v":2.8},{"h":15.7,"v":1.3},{"h":26.4,"v":1.3},{"h":37.7,"v":1.3},{"h":38.4,"v":4.5},{"h":39.0,"v":6.1},{"h":41.9,"v":5.5},{"h":43.0,"v":2.1},{"h":44.2,"v":-3.9},{"h":45.0,"v":-5.8},{"h":45.6,"v":-6.2},{"h":46.1,"v":-5.0},{"h":46.5,"v":-1.6},{"h":47.5,"v":2.1},{"h":48.5,"v":3.9},{"h":50.5,"v":3.9},{"h":53.9,"v":4.6},{"h":56.5,"v":5.5},{"h":58.2,"v":3.6},{"h":62.2,"v":2.8},{"h":68.8,"v":1.6},{"h":75.5,"v":-0.4},{"h":82.2,"v":-1.6},{"h":88.8,"v":-2.4},{"h":96,"v":-2.4}
    ],
    "by_band": [
      {"h":0,"lo5":2.0,"hi5":3.8,"lo10":1.8,"hi10":4.0},{"h":10,"lo5":1.2,"hi5":3.0,"lo10":1.0,"hi10":3.5},{"h":20,"lo5":0.8,"hi5":2.0,"lo10":0.6,"hi10":3.0},{"h":30,"lo5":0.8,"hi5":1.8,"lo10":0.6,"hi10":2.8},{"h":37,"lo5":0.8,"hi5":2.0,"lo10":0.5,"hi10":3.0},{"h":38,"lo5":0.5,"hi5":5.5,"lo10":0,"hi10":5.0},{"h":39,"lo5":-1,"hi5":6.5,"lo10":-3,"hi10":6.0},{"h":40.5,"lo5":-4,"hi5":6.5,"lo10":-9.8,"hi10":7.0},{"h":42,"lo5":-6.5,"hi5":6.0,"lo10":-10,"hi10":8.5},{"h":44,"lo5":-7,"hi5":8.0,"lo10":-9,"hi10":11},{"h":45.5,"lo5":-8.3,"hi5":9.5,"lo10":-9.8,"hi10":11.8},{"h":47.8,"lo5":-7.5,"hi5":8.5,"lo10":-7,"hi10":10.8},{"h":49,"lo5":-1,"hi5":8.1,"lo10":-6.1,"hi10":10.3},{"h":50.5,"lo5":0.6,"hi5":9,"lo10":-5,"hi10":11.5},{"h":53.8,"lo5":1.3,"hi5":10.3,"lo10":-4,"hi10":12.5},{"h":58.8,"lo5":0.8,"hi5":8.1,"lo10":-3.1,"hi10":10.3},{"h":63.8,"lo5":0.5,"hi5":5.8,"lo10":-2.5,"hi10":8.1},{"h":68.8,"lo5":0.0,"hi5":2.8,"lo10":-2.0,"hi10":3.6},{"h":75.5,"lo5":-1.0,"hi5":0.6,"lo10":-2.5,"hi10":1.3},{"h":82.2,"lo5":-2.0,"hi5":0,"lo10":-3.1,"hi10":0.6},{"h":96,"lo5":-3.1,"hi5":-0.9,"lo10":-3.9,"hi10":-0.1}
    ],
    "bz_omni": [
      {"h":0.06,"v":0},{"h":1.36,"v":-0.3},{"h":2.09,"v":-1.6},{"h":2.83,"v":1.5},{"h":3.57,"v":0.4},{"h":4.31,"v":1.7},{"h":5.04,"v":2.0},{"h":5.78,"v":-1.6},{"h":6.52,"v":1.7},{"h":7.26,"v":-0.9},{"h":8.73,"v":-0.9},{"h":9.47,"v":-2.2},{"h":10.21,"v":0.4},{"h":10.95,"v":1.1},{"h":11.68,"v":2.0},{"h":12.79,"v":1.7},{"h":13.71,"v":-1.6},{"h":14.64,"v":2.0},{"h":16.11,"v":2.4},{"h":17.22,"v":3.1},{"h":17.96,"v":-0.3},{"h":19.06,"v":-2.0},{"h":20.17,"v":1.7},{"h":20.91,"v":2.8},{"h":22.01,"v":-0.3},{"h":22.2,"v":5.7},{"h":22.57,"v":-6.2},{"h":22.94,"v":4.4},{"h":23.3,"v":-4.9},{"h":23.67,"v":5.1},{"h":24.04,"v":-6.9},{"h":24.41,"v":5.7},{"h":24.96,"v":7.0},{"h":25.52,"v":-0.9},{"h":25.89,"v":8.6},{"h":26.44,"v":4.4},{"h":26.81,"v":-3.6},{"h":27.36,"v":1.7},{"h":27.92,"v":-7.5},{"h":28.47,"v":4.4},{"h":29.21,"v":7.7},{"h":29.58,"v":-0.9},{"h":30.13,"v":-5.6},{"h":30.68,"v":1.7},{"h":31.24,"v":-0.9},{"h":31.6,"v":9.7},{"h":32.34,"v":13.6},{"h":32.71,"v":4.4},{"h":33.08,"v":-0.9},{"h":33.45,"v":-16.1},{"h":33.56,"v":34.1},{"h":33.82,"v":28.2},{"h":34.08,"v":17.6},{"h":34.26,"v":-6.2},{"h":34.55,"v":4.4},{"h":34.85,"v":36.1},{"h":35.29,"v":38.1},{"h":35.66,"v":34.8},{"h":36.03,"v":29.5},{"h":36.4,"v":31.5},{"h":36.95,"v":28.2},{"h":37.51,"v":15.0},{"h":37.88,"v":12.3},{"h":38.61,"v":11.0},{"h":39.17,"v":5.7},{"h":39.72,"v":4.4},{"h":40.46,"v":5.7},{"h":40.83,"v":-3.6},{"h":41.57,"v":0.4},{"h":42.3,"v":-8.2},{"h":43.04,"v":-10.2},{"h":43.78,"v":-12.8},{"h":44.52,"v":-14.2},{"h":45.07,"v":-5.6},{"h":45.44,"v":-11.5},{"h":46.36,"v":-14.8},{"h":47.86,"v":-14.7},{"h":48.33,"v":-17.5},{"h":48.79,"v":-3.6},{"h":49.26,"v":0.4},{"h":49.73,"v":8.3},{"h":50.0,"v":2.4},{"h":51.12,"v":0.4},{"h":52.06,"v":4.4},{"h":52.99,"v":-1.6},{"h":53.92,"v":2.4},{"h":54.86,"v":-3.6},{"h":55.79,"v":0.4},{"h":56.72,"v":-1.6},{"h":58.59,"v":0.4},{"h":60.45,"v":-3.6},{"h":62.32,"v":-5.6},{"h":63.25,"v":-7.5},{"h":63.9,"v":8.3},{"h":64.18,"v":-3.6},{"h":66.05,"v":-1.6},{"h":67.92,"v":0.4},{"h":68.38,"v":5.2},{"h":68.85,"v":0.4},{"h":70.72,"v":-1.6},{"h":72.58,"v":-1.6},{"h":76.31,"v":-1.6},{"h":80.04,"v":-0.8},{"h":82.85,"v":-0.4},{"h":87.51,"v":0},{"h":92.17,"v":-0.4},{"h":96,"v":-0.8}
    ],
    "bz_model": [
      {"h":0,"v":0},{"h":36,"v":0},{"h":37.5,"v":0},{"h":38.3,"v":-0.4},{"h":39.2,"v":-0.2},{"h":40,"v":0},{"h":42,"v":0.4},{"h":45,"v":0.8},{"h":48,"v":0.8},{"h":50,"v":-0.2},{"h":55,"v":-1.5},{"h":60,"v":-2.5},{"h":65,"v":-3.2},{"h":70,"v":-3.6},{"h":75,"v":-3.8},{"h":80,"v":-3.7},{"h":85,"v":-3.3},{"h":90,"v":-2.8},{"h":96,"v":-2.2}
    ],
    "bz_band": [
      {"h":0,"lo5":-0.4,"hi5":0.4,"lo10":-0.6,"hi10":0.6},{"h":36,"lo5":-0.4,"hi5":0.4,"lo10":-0.6,"hi10":0.6},{"h":41,"lo5":-0.5,"hi5":0.5,"lo10":-0.5,"hi10":0.6},{"h":41.7,"lo5":-0.5,"hi5":1,"lo10":-1.0,"hi10":10},{"h":43,"lo5":-0.8,"hi5":3.5,"lo10":-1.5,"hi10":16.9},{"h":45,"lo5":-1,"hi5":3.8,"lo10":-2,"hi10":15.6},{"h":47.4,"lo5":-2,"hi5":4,"lo10":-3,"hi10":12.3},{"h":50,"lo5":-5,"hi5":3.5,"lo10":-7,"hi10":8},{"h":55,"lo5":-8,"hi5":2.5,"lo10":-10,"hi10":6},{"h":60,"lo5":-9.5,"hi5":2,"lo10":-11.5,"hi10":5},{"h":65,"lo5":-10.5,"hi5":1.5,"lo10":-12.5,"hi10":4.5},{"h":72,"lo5":-11.5,"hi5":1,"lo10":-13.5,"hi10":3.8},{"h":80,"lo5":-10,"hi5":0.5,"lo10":-12.5,"hi10":3.0},{"h":88,"lo5":-7,"hi5":-0.2,"lo10":-9,"hi10":2.0},{"h":96,"lo5":-4.4,"hi5":-0.8,"lo10":-5.6,"hi10":1.2}
    ]
  },
  "vconcat": [
    {
      "width": 1029, "height": 157,
      "encoding": {"x": {"field": "h", "type": "quantitative", "scale": {"domain": [0, 96], "nice": false, "zero": false}, "axis": {"values": [0, 24, 48, 72, 96], "labels": false, "title": null}}},
      "layer": [
        {"data": {"name": "v_band"}, "mark": {"type": "area", "clip": true},
         "encoding": {"y": {"field": "lo10", "type": "quantitative", "title": "V [km/s]", "scale": {"domain": [201, 902], "nice": false, "zero": false}, "axis": {"values": [250, 500, 750]}}, "y2": {"field": "hi10"},
           "fill": {"datum": "EUHFORIA - 10˚", "type": "nominal", "scale": {"domain": ["OMNI 1-min data", "EUHFORIA at Earth", "EUHFORIA - 5˚", "EUHFORIA - 10˚"], "range": ["transparent", "transparent", "rgba(255,0,0,0.22)", "rgba(255,0,0,0.11)"]},
             "legend": {"orient": "none", "legendX": -1, "legendY": -38, "direction": "horizontal", "title": null, "labelFont": "DejaVu Sans", "labelFontSize": 19, "labelColor": "#000000", "labelLimit": 400, "symbolSize": 400, "symbolStrokeWidth": 2, "labelOffset": 36, "columnPadding": 49, "padding": 6, "strokeColor": "#cccccc", "fillColor": "#ffffff", "cornerRadius": 4}}}},
        {"data": {"name": "v_band"}, "mark": {"type": "area", "clip": true},
         "encoding": {"y": {"field": "lo5", "type": "quantitative", "title": "V [km/s]"}, "y2": {"field": "hi5"},
           "fill": {"datum": "EUHFORIA - 5˚", "type": "nominal", "scale": {"domain": ["OMNI 1-min data", "EUHFORIA at Earth", "EUHFORIA - 5˚", "EUHFORIA - 10˚"], "range": ["transparent", "transparent", "rgba(255,0,0,0.22)", "rgba(255,0,0,0.11)"]}}}},
        {"data": {"name": "v_omni"}, "mark": {"type": "line", "strokeWidth": 1.6, "clip": true},
         "encoding": {"y": {"field": "v", "type": "quantitative", "title": "V [km/s]"}, "stroke": {"datum": "OMNI 1-min data", "type": "nominal", "scale": {"domain": ["OMNI 1-min data", "EUHFORIA at Earth", "EUHFORIA - 5˚", "EUHFORIA - 10˚"], "range": ["#000000", "#ff0000", "transparent", "transparent"]}}}},
        {"data": {"name": "v_model"}, "mark": {"type": "line", "strokeWidth": 2, "clip": true},
         "encoding": {"y": {"field": "v", "type": "quantitative", "title": "V [km/s]"}, "stroke": {"datum": "EUHFORIA at Earth", "type": "nominal", "scale": {"domain": ["OMNI 1-min data", "EUHFORIA at Earth", "EUHFORIA - 5˚", "EUHFORIA - 10˚"], "range": ["#000000", "#ff0000", "transparent", "transparent"]}}}},
        {"data": {"name": "v_model"}, "mark": {"type": "point", "clip": true, "opacity": 0},
         "encoding": {"y": {"field": "v", "type": "quantitative", "title": "V [km/s]"}, "shape": {"datum": "EUHFORIA at Earth", "type": "nominal", "scale": {"domain": ["OMNI 1-min data", "EUHFORIA at Earth", "EUHFORIA - 5˚", "EUHFORIA - 10˚"], "range": ["M-1,0H3", "M-1,0H3", "M-1,-0.7H3V0.7H-1Z", "M-1,-0.7H3V0.7H-1Z"]}}}}
      ]
    },
    {
      "width": 1029, "height": 157,
      "encoding": {"x": {"field": "h", "type": "quantitative", "scale": {"domain": [0, 96], "nice": false, "zero": false}, "axis": {"values": [0, 24, 48, 72, 96], "labels": false, "title": null}}},
      "layer": [
        {"data": {"name": "n_band"}, "mark": {"type": "area", "clip": true},
         "encoding": {"y": {"field": "lo10", "type": "quantitative", "title": "N [cm⁻³]", "scale": {"domain": [-3.8, 81.9], "nice": false, "zero": false}, "axis": {"values": [0, 50]}}, "y2": {"field": "hi10"},
           "fill": {"datum": "EUHFORIA - 10˚", "type": "nominal", "scale": {"domain": ["OMNI 1-min data", "EUHFORIA at Earth", "EUHFORIA - 5˚", "EUHFORIA - 10˚"], "range": ["transparent", "transparent", "rgba(255,0,0,0.22)", "rgba(255,0,0,0.11)"]}}}},
        {"data": {"name": "n_band"}, "mark": {"type": "area", "clip": true},
         "encoding": {"y": {"field": "lo5", "type": "quantitative", "title": "N [cm⁻³]"}, "y2": {"field": "hi5"},
           "fill": {"datum": "EUHFORIA - 5˚", "type": "nominal", "scale": {"domain": ["OMNI 1-min data", "EUHFORIA at Earth", "EUHFORIA - 5˚", "EUHFORIA - 10˚"], "range": ["transparent", "transparent", "rgba(255,0,0,0.22)", "rgba(255,0,0,0.11)"]}}}},
        {"data": {"name": "n_omni"}, "mark": {"type": "line", "strokeWidth": 1.6, "clip": true},
         "encoding": {"y": {"field": "v", "type": "quantitative", "title": "N [cm⁻³]"}, "stroke": {"datum": "OMNI 1-min data", "type": "nominal", "scale": {"domain": ["OMNI 1-min data", "EUHFORIA at Earth", "EUHFORIA - 5˚", "EUHFORIA - 10˚"], "range": ["#000000", "#ff0000", "transparent", "transparent"]}}}},
        {"data": {"name": "n_model"}, "mark": {"type": "line", "strokeWidth": 2, "clip": true},
         "encoding": {"y": {"field": "v", "type": "quantitative", "title": "N [cm⁻³]"}, "stroke": {"datum": "EUHFORIA at Earth", "type": "nominal", "scale": {"domain": ["OMNI 1-min data", "EUHFORIA at Earth", "EUHFORIA - 5˚", "EUHFORIA - 10˚"], "range": ["#000000", "#ff0000", "transparent", "transparent"]}}}}
      ]
    },
    {
      "width": 1029, "height": 157,
      "encoding": {"x": {"field": "h", "type": "quantitative", "scale": {"domain": [0, 96], "nice": false, "zero": false}, "axis": {"values": [0, 24, 48, 72, 96], "labels": false, "title": null}}},
      "layer": [
        {"data": {"name": "b_band"}, "mark": {"type": "area", "clip": true},
         "encoding": {"y": {"field": "lo10", "type": "quantitative", "title": "|B| [nT]", "scale": {"domain": [-2.3, 43.2], "nice": false, "zero": false}, "axis": {"values": [0, 20, 40]}}, "y2": {"field": "hi10"},
           "fill": {"datum": "EUHFORIA - 10˚", "type": "nominal", "scale": {"domain": ["OMNI 1-min data", "EUHFORIA at Earth", "EUHFORIA - 5˚", "EUHFORIA - 10˚"], "range": ["transparent", "transparent", "rgba(255,0,0,0.22)", "rgba(255,0,0,0.11)"]}}}},
        {"data": {"name": "b_band"}, "mark": {"type": "area", "clip": true},
         "encoding": {"y": {"field": "lo5", "type": "quantitative", "title": "|B| [nT]"}, "y2": {"field": "hi5"},
           "fill": {"datum": "EUHFORIA - 5˚", "type": "nominal", "scale": {"domain": ["OMNI 1-min data", "EUHFORIA at Earth", "EUHFORIA - 5˚", "EUHFORIA - 10˚"], "range": ["transparent", "transparent", "rgba(255,0,0,0.22)", "rgba(255,0,0,0.11)"]}}}},
        {"data": {"name": "b_omni"}, "mark": {"type": "line", "strokeWidth": 1.6, "clip": true},
         "encoding": {"y": {"field": "v", "type": "quantitative", "title": "|B| [nT]"}, "stroke": {"datum": "OMNI 1-min data", "type": "nominal", "scale": {"domain": ["OMNI 1-min data", "EUHFORIA at Earth", "EUHFORIA - 5˚", "EUHFORIA - 10˚"], "range": ["#000000", "#ff0000", "transparent", "transparent"]}}}},
        {"data": {"name": "b_model"}, "mark": {"type": "line", "strokeWidth": 2, "clip": true},
         "encoding": {"y": {"field": "v", "type": "quantitative", "title": "|B| [nT]"}, "stroke": {"datum": "EUHFORIA at Earth", "type": "nominal", "scale": {"domain": ["OMNI 1-min data", "EUHFORIA at Earth", "EUHFORIA - 5˚", "EUHFORIA - 10˚"], "range": ["#000000", "#ff0000", "transparent", "transparent"]}}}}
      ]
    },
    {
      "width": 1029, "height": 157,
      "encoding": {"x": {"field": "h", "type": "quantitative", "scale": {"domain": [0, 96], "nice": false, "zero": false}, "axis": {"values": [0, 24, 48, 72, 96], "labels": false, "title": null}}},
      "layer": [
        {"data": {"name": "bx_band"}, "mark": {"type": "area", "clip": true},
         "encoding": {"y": {"field": "lo10", "type": "quantitative", "title": "Bₓ [nT]", "scale": {"domain": [-14, 26.75], "nice": false, "zero": false}, "axis": {"values": [0, 20]}}, "y2": {"field": "hi10"},
           "fill": {"datum": "EUHFORIA - 10˚", "type": "nominal", "scale": {"domain": ["OMNI 1-min data", "EUHFORIA at Earth", "EUHFORIA - 5˚", "EUHFORIA - 10˚"], "range": ["transparent", "transparent", "rgba(255,0,0,0.22)", "rgba(255,0,0,0.11)"]}}}},
        {"data": {"name": "bx_band"}, "mark": {"type": "area", "clip": true},
         "encoding": {"y": {"field": "lo5", "type": "quantitative", "title": "Bₓ [nT]"}, "y2": {"field": "hi5"},
           "fill": {"datum": "EUHFORIA - 5˚", "type": "nominal", "scale": {"domain": ["OMNI 1-min data", "EUHFORIA at Earth", "EUHFORIA - 5˚", "EUHFORIA - 10˚"], "range": ["transparent", "transparent", "rgba(255,0,0,0.22)", "rgba(255,0,0,0.11)"]}}}},
        {"data": {"name": "bx_omni"}, "mark": {"type": "line", "strokeWidth": 1.6, "clip": true},
         "encoding": {"y": {"field": "v", "type": "quantitative", "title": "Bₓ [nT]"}, "stroke": {"datum": "OMNI 1-min data", "type": "nominal", "scale": {"domain": ["OMNI 1-min data", "EUHFORIA at Earth", "EUHFORIA - 5˚", "EUHFORIA - 10˚"], "range": ["#000000", "#ff0000", "transparent", "transparent"]}}}},
        {"data": {"name": "bx_model"}, "mark": {"type": "line", "strokeWidth": 2, "clip": true},
         "encoding": {"y": {"field": "v", "type": "quantitative", "title": "Bₓ [nT]"}, "stroke": {"datum": "EUHFORIA at Earth", "type": "nominal", "scale": {"domain": ["OMNI 1-min data", "EUHFORIA at Earth", "EUHFORIA - 5˚", "EUHFORIA - 10˚"], "range": ["#000000", "#ff0000", "transparent", "transparent"]}}}}
      ]
    },
    {
      "width": 1029, "height": 157,
      "encoding": {"x": {"field": "h", "type": "quantitative", "scale": {"domain": [0, 96], "nice": false, "zero": false}, "axis": {"values": [0, 24, 48, 72, 96], "labels": false, "title": null}}},
      "layer": [
        {"data": {"name": "by_band"}, "mark": {"type": "area", "clip": true},
         "encoding": {"y": {"field": "lo10", "type": "quantitative", "title": "Bᵧ [nT]", "scale": {"domain": [-27.2, 42.9], "nice": false, "zero": false}, "axis": {"values": [-25, 0, 25]}}, "y2": {"field": "hi10"},
           "fill": {"datum": "EUHFORIA - 10˚", "type": "nominal", "scale": {"domain": ["OMNI 1-min data", "EUHFORIA at Earth", "EUHFORIA - 5˚", "EUHFORIA - 10˚"], "range": ["transparent", "transparent", "rgba(255,0,0,0.22)", "rgba(255,0,0,0.11)"]}}}},
        {"data": {"name": "by_band"}, "mark": {"type": "area", "clip": true},
         "encoding": {"y": {"field": "lo5", "type": "quantitative", "title": "Bᵧ [nT]"}, "y2": {"field": "hi5"},
           "fill": {"datum": "EUHFORIA - 5˚", "type": "nominal", "scale": {"domain": ["OMNI 1-min data", "EUHFORIA at Earth", "EUHFORIA - 5˚", "EUHFORIA - 10˚"], "range": ["transparent", "transparent", "rgba(255,0,0,0.22)", "rgba(255,0,0,0.11)"]}}}},
        {"data": {"name": "by_omni"}, "mark": {"type": "line", "strokeWidth": 1.6, "clip": true},
         "encoding": {"y": {"field": "v", "type": "quantitative", "title": "Bᵧ [nT]"}, "stroke": {"datum": "OMNI 1-min data", "type": "nominal", "scale": {"domain": ["OMNI 1-min data", "EUHFORIA at Earth", "EUHFORIA - 5˚", "EUHFORIA - 10˚"], "range": ["#000000", "#ff0000", "transparent", "transparent"]}}}},
        {"data": {"name": "by_model"}, "mark": {"type": "line", "strokeWidth": 2, "clip": true},
         "encoding": {"y": {"field": "v", "type": "quantitative", "title": "Bᵧ [nT]"}, "stroke": {"datum": "EUHFORIA at Earth", "type": "nominal", "scale": {"domain": ["OMNI 1-min data", "EUHFORIA at Earth", "EUHFORIA - 5˚", "EUHFORIA - 10˚"], "range": ["#000000", "#ff0000", "transparent", "transparent"]}}}}
      ]
    },
    {
      "width": 1029, "height": 157,
      "encoding": {"x": {"field": "h", "type": "quantitative", "scale": {"domain": [0, 96], "nice": false, "zero": false}, "axis": {"values": [0, 24, 48, 72, 96], "labels": true, "title": null, "labelPadding": 0, "labelOverlap": false, "labelFlush": false, "labelExpr": "utcFormat(utc(2012, 5, 15, 12, 0) + datum.value * 3600000, '%b %d %H:%M')"}}},
      "layer": [
        {"data": {"name": "bz_band"}, "mark": {"type": "area", "clip": true},
         "encoding": {"y": {"field": "lo10", "type": "quantitative", "title": "Bz [nT]", "scale": {"domain": [-21.4, 40.9], "nice": false, "zero": false}, "axis": {"values": [0, 25]}}, "y2": {"field": "hi10"},
           "fill": {"datum": "EUHFORIA - 10˚", "type": "nominal", "scale": {"domain": ["OMNI 1-min data", "EUHFORIA at Earth", "EUHFORIA - 5˚", "EUHFORIA - 10˚"], "range": ["transparent", "transparent", "rgba(255,0,0,0.22)", "rgba(255,0,0,0.11)"]}}}},
        {"data": {"name": "bz_band"}, "mark": {"type": "area", "clip": true},
         "encoding": {"y": {"field": "lo5", "type": "quantitative", "title": "Bz [nT]"}, "y2": {"field": "hi5"},
           "fill": {"datum": "EUHFORIA - 5˚", "type": "nominal", "scale": {"domain": ["OMNI 1-min data", "EUHFORIA at Earth", "EUHFORIA - 5˚", "EUHFORIA - 10˚"], "range": ["transparent", "transparent", "rgba(255,0,0,0.22)", "rgba(255,0,0,0.11)"]}}}},
        {"data": {"name": "bz_omni"}, "mark": {"type": "line", "strokeWidth": 1.6, "clip": true},
         "encoding": {"y": {"field": "v", "type": "quantitative", "title": "Bz [nT]"}, "stroke": {"datum": "OMNI 1-min data", "type": "nominal", "scale": {"domain": ["OMNI 1-min data", "EUHFORIA at Earth", "EUHFORIA - 5˚", "EUHFORIA - 10˚"], "range": ["#000000", "#ff0000", "transparent", "transparent"]}}}},
        {"data": {"name": "bz_model"}, "mark": {"type": "line", "strokeWidth": 2, "clip": true},
         "encoding": {"y": {"field": "v", "type": "quantitative", "title": "Bz [nT]"}, "stroke": {"datum": "EUHFORIA at Earth", "type": "nominal", "scale": {"domain": ["OMNI 1-min data", "EUHFORIA at Earth", "EUHFORIA - 5˚", "EUHFORIA - 10˚"], "range": ["#000000", "#ff0000", "transparent", "transparent"]}}}}
      ]
    }
  ],
  "spacing": 36,
  "bounds": "flush",
  "resolve": {"scale": {"x": "shared", "y": "independent", "fill": "shared", "stroke": "shared", "shape": "shared"}, "legend": {"fill": "shared", "stroke": "shared", "shape": "shared"}}
}
